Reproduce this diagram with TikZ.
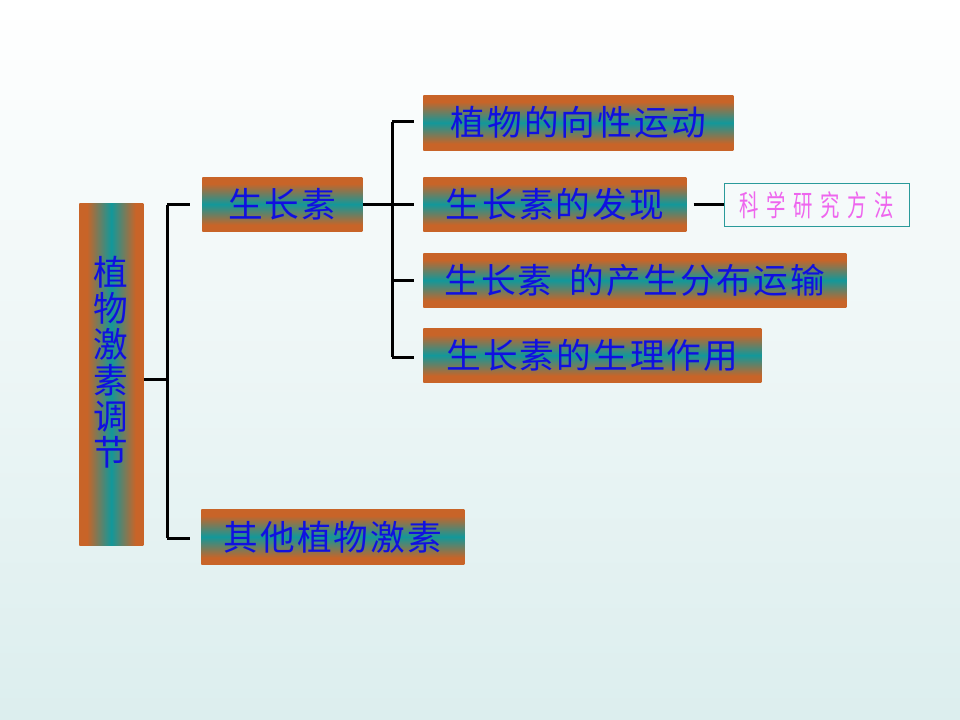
\documentclass[tikz,border=0pt]{standalone}
\usepackage{fontspec}
\newfontfamily\cjk{Noto Sans CJK SC}
\newfontfamily\cjksp{Noto Sans CJK SC}[LetterSpace=6]
\newfontfamily\cjkpink{Noto Sans CJK SC}[FakeStretch=0.66,LetterSpace=26]
\definecolor{boxorange}{HTML}{C86428}
\definecolor{boxteal}{HTML}{12989A}
\definecolor{txtblue}{HTML}{1010E0}
\definecolor{pinktxt}{HTML}{EE66EE}
\definecolor{bgbottom}{HTML}{DCEEEE}
\definecolor{bgmid}{HTML}{EDF6F6}
\definecolor{framteal}{HTML}{2A9A9A}
\pgfdeclareverticalshading{barshadeH}{100bp}{color(0bp)=(boxorange); color(31bp)=(boxorange); color(50bp)=(boxteal); color(69bp)=(boxorange); color(100bp)=(boxorange)}
\pgfdeclarehorizontalshading{barshadeV}{100bp}{color(0bp)=(boxorange); color(31bp)=(boxorange); color(50bp)=(boxteal); color(69bp)=(boxorange); color(100bp)=(boxorange)}
\begin{document}
\begin{tikzpicture}[x=0.75pt,y=-0.75pt,
  hbox/.style={rectangle, inner sep=0pt, anchor=north west,
    shade, shading=barshadeH,
    text=txtblue, font=\cjksp\fontsize{26}{28}\selectfont},
  vbox/.style={rectangle, inner sep=0pt, anchor=north west,
    shade, shading=barshadeV,
    text=txtblue, font=\cjk\fontsize{26}{27}\selectfont},
  conn/.style={line width=2.25pt, black},
  note/.style={rectangle, draw=framteal, line width=0.8pt, inner sep=0pt, anchor=north west,
    text=pinktxt, font=\cjkpink\fontsize{22}{24}\selectfont}
]
\shade[top color=white, bottom color=bgbottom, middle color=bgmid] (0,0) rectangle (960,720);
\useasboundingbox (0,0) rectangle (960,720);

\node[vbox, minimum width=48pt, minimum height=256.5pt] (root) at (79,203)
  {\parbox{30pt}{\centering 植\\物\\激\\素\\调\\节\par\vspace*{18pt}}};
\node[hbox, minimum width=120pt, minimum height=40.5pt] (szs) at (202,177) {生长素};
\node[hbox, minimum width=197.25pt, minimum height=41.25pt] (qt) at (201,509) {其他植物激素};
\node[hbox, minimum width=232.5pt, minimum height=41.25pt] (b1) at (423,95) {植物的向性运动};
\node[hbox, minimum width=197.25pt, minimum height=40.5pt] (b2) at (423,177) {生长素的发现};
\node[hbox, minimum width=317.25pt, minimum height=40.5pt] (b3) at (423,253) {生长素\hspace{0.5em}的产生分布运输};
\node[hbox, minimum width=253.5pt, minimum height=40.5pt] (b4) at (423,328) {生长素的生理作用};
\node[note, minimum width=138.75pt, minimum height=32.25pt] (kx) at (724,183) {科学研究方法};

% left bracket
\coordinate (lt) at (167,205);
\coordinate (lb) at (167,538);
\coordinate (lm) at (167,379);
\draw[conn] (lt) -- (lb);
\draw[conn] (root.east |- lm) -- (lm);
\draw[conn, shorten >=9pt] (lt) -- (szs.west |- lt);
\draw[conn, shorten >=8.25pt] (lb) -- (qt.west |- lb);

% right bracket
\coordinate (rt) at (392,122);
\coordinate (rb) at (392,357);
\coordinate (rm) at (392,205);
\coordinate (r3) at (392,281);
\draw[conn] (rt) -- (rb);
\draw[conn] (szs.east |- rm) -- (rm);
\draw[conn, shorten >=6.75pt] (rt) -- (b1.west |- rt);
\draw[conn, shorten >=6.75pt] (rm) -- (b2.west |- rm);
\draw[conn, shorten >=6.75pt] (r3) -- (b3.west |- r3);
\draw[conn, shorten >=6.75pt] (rb) -- (b4.west |- rb);

% note link
\draw[conn, shorten <=5.25pt] (b2.east |- rm) -- (kx.west |- rm);
\end{tikzpicture}
\end{document}
